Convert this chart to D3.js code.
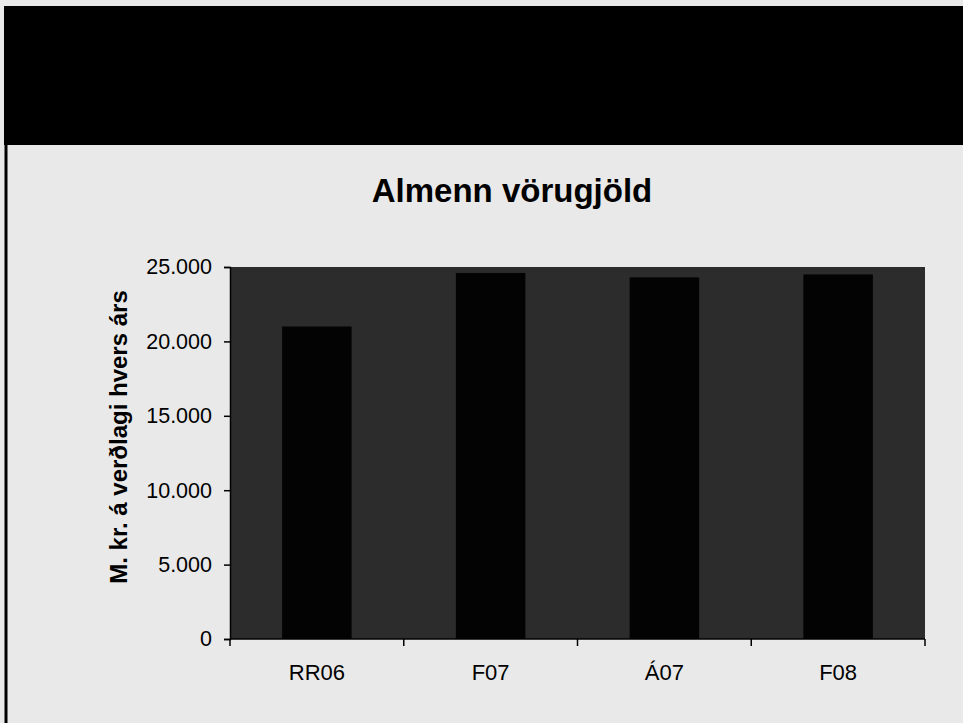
<!DOCTYPE html>
<html>
<head>
<meta charset="utf-8">
<script src="https://cdn.jsdelivr.net/npm/d3@7"></script>
<style>
  html, body { margin: 0; padding: 0; background: #ffffff; }
  svg { display: block; }
</style>
</head>
<body>
<svg id="chart" width="963" height="723"></svg>
<script>
// ---- data ----
const categories = ["RR06", "F07", "Á07", "F08"];
const values = [21000, 24600, 24300, 24500];
const yTicks = [0, 5000, 10000, 15000, 20000, 25000];
const yTickLabels = ["0", "5.000", "10.000", "15.000", "20.000", "25.000"];
const titleText = "Almenn vörugjöld";
const yAxisTitle = "M. kr. á verðlagi hvers árs";

// ---- layout ----
const W = 963, H = 723;
const plot = { left: 230, right: 925, top: 267, bottom: 639 };
const FONT = "'Liberation Sans', Arial, sans-serif";
const svg = d3.select("#chart");

// page background
svg.append("rect").attr("x", 0).attr("y", 0).attr("width", W).attr("height", H).attr("fill", "#e9e9e9");
// top black band
svg.append("rect").attr("x", 4).attr("y", 6).attr("width", W - 4).attr("height", 139).attr("fill", "#000");
// left border line
svg.append("line").attr("x1", 6).attr("x2", 6).attr("y1", 145).attr("y2", H)
  .attr("stroke", "#000").attr("stroke-width", 3);

// scales
const x = d3.scaleBand().domain(categories).range([plot.left, plot.right])
  .paddingInner(0.6).paddingOuter(0.3);
const xCat = d3.scaleBand().domain(categories).range([plot.left, plot.right]);
const y = d3.scaleLinear().domain([0, 25000]).range([plot.bottom, plot.top]);

// plot area
svg.append("rect").attr("x", plot.left).attr("y", plot.top)
  .attr("width", plot.right - plot.left).attr("height", plot.bottom - plot.top)
  .attr("fill", "#2c2c2c");

// bars
svg.append("g").selectAll("rect").data(values).join("rect")
  .attr("x", (d, i) => x(categories[i]))
  .attr("y", d => y(d))
  .attr("width", x.bandwidth())
  .attr("height", d => y(0) - y(d))
  .attr("fill", "#030303");

// y axis
const yAxis = d3.axisLeft(y).tickValues(yTicks)
  .tickFormat((d, i) => yTickLabels[i]).tickSize(6).tickPadding(12);
const gy = svg.append("g").attr("transform", `translate(${plot.left},0)`).call(yAxis);
gy.select(".domain").attr("stroke", "#000").attr("stroke-width", 1.5);
gy.selectAll(".tick line").attr("stroke", "#000").attr("stroke-width", 1.5);
gy.selectAll(".tick text").attr("fill", "#000")
  .style("font-family", FONT).style("font-size", "21.5px");

// x axis (ticks between categories)
const gx = svg.append("g").attr("transform", `translate(0,${plot.bottom})`);
gx.append("line").attr("x1", plot.left).attr("x2", plot.right).attr("y1", 0).attr("y2", 0)
  .attr("stroke", "#000").attr("stroke-width", 1.5);
const tickXs = categories.map(c => xCat(c)).concat([xCat(categories[categories.length - 1]) + xCat.bandwidth()]);
gx.selectAll("line.tk").data(tickXs).join("line").attr("class", "tk")
  .attr("x1", d => d).attr("x2", d => d).attr("y1", 0).attr("y2", 7)
  .attr("stroke", "#000").attr("stroke-width", 1.5);
gx.selectAll("text").data(categories).join("text")
  .attr("x", d => xCat(d) + xCat.bandwidth() / 2)
  .attr("y", 41)
  .attr("text-anchor", "middle")
  .style("font-family", FONT).style("font-size", "22px")
  .attr("fill", "#000")
  .text(d => d);

// title
svg.append("text").attr("x", 512).attr("y", 202).attr("text-anchor", "middle")
  .style("font-family", FONT).style("font-size", "33px")
  .style("font-weight", "bold").attr("fill", "#000").text(titleText);

// y axis title
svg.append("text").attr("transform", "translate(127,437) rotate(-90)")
  .attr("text-anchor", "middle")
  .style("font-family", FONT).style("font-size", "24px")
  .style("font-weight", "bold").attr("fill", "#000").text(yAxisTitle);
</script>
</body>
</html>
